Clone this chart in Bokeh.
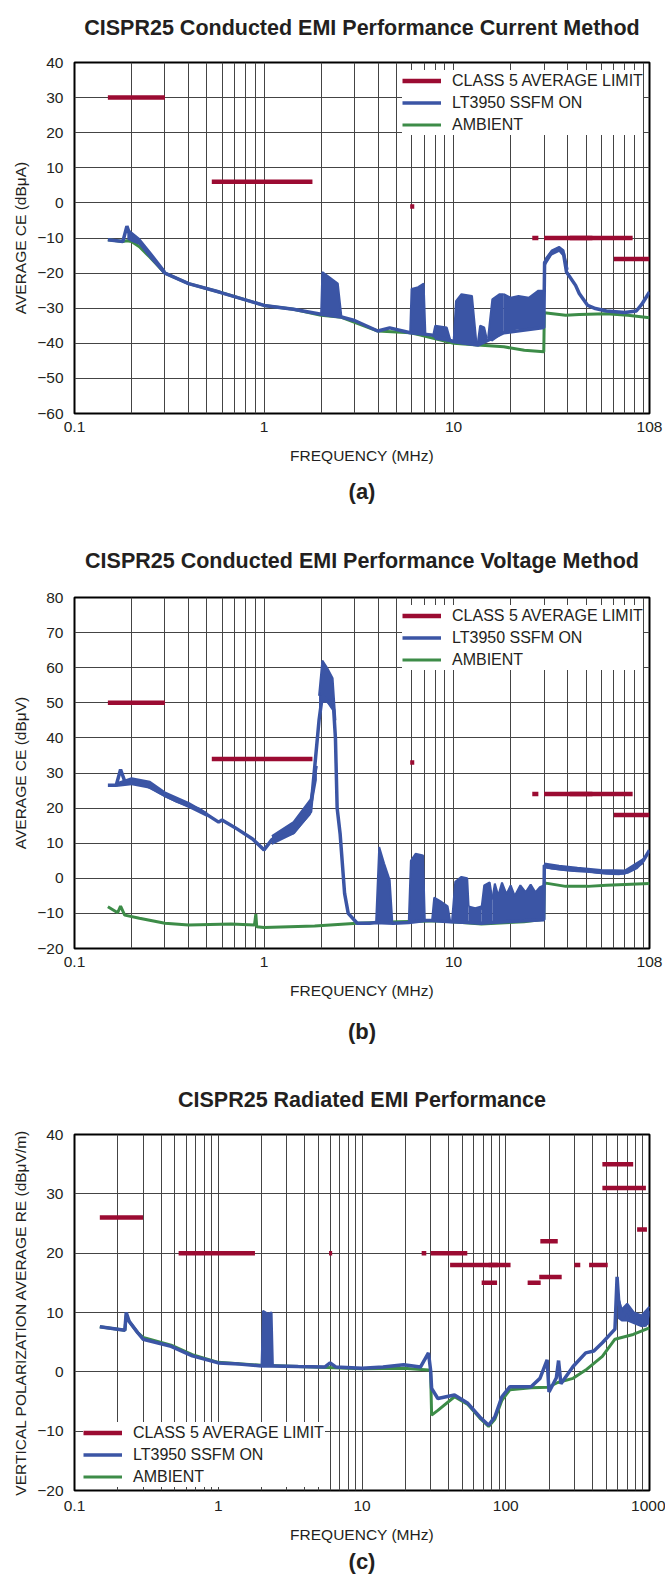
from bokeh.plotting import figure
from bokeh.layouts import column
from bokeh.models import Range1d, FixedTicker, Legend, LegendItem, Title
from bokeh.embed import file_html
from bokeh.resources import INLINE

FONT = "Liberation Sans"
LIMIT_COLOR = "#9b0b32"
BLUE = "#3b55a5"
GREEN = "#3d8c48"
GRID = "#444444"
TEXT = "#231f20"

LEGEND_LABELS = ["CLASS 5 AVERAGE LIMIT", "LT3950 SSFM ON", "AMBIENT"]
X_LABEL = "FREQUENCY (MHz)"

# ---------------- chart (a): conducted, current method ----------------
A_TITLE = "CISPR25 Conducted EMI Performance Current Method"
A_YLABEL = "AVERAGE CE (dBμA)"
A_XTICKS = [0.1, 1, 10, 108]
A_XTICK_LABELS = ["0.1", "1", "10", "108"]
A_YTICKS = [-60, -50, -40, -30, -20, -10, 0, 10, 20, 30, 40]
A_YTICK_LABELS = ["−60", "−50", "−40", "−30", "−20", "−10", "0", "10", "20", "30", "40"]

A_LIM_F0 = [0.15, 0.53, 5.9, 26, 30, 41, 70]
A_LIM_F1 = [0.30, 1.8, 6.2, 28, 54, 88, 108]
A_LIM_DB = [30, 6, -1, -10, -10, -10, -16]

A_SSFM_F = [0.15, 0.18, 0.189, 0.20, 0.22, 0.25, 0.30, 0.40, 0.58, 1.0, 1.43, 2.0, 2.56, 3.0,
            3.98, 4.6, 5.9, 7.6, 10.0, 13.4, 18.4, 29.9, 30.2, 33, 36, 38, 39.4, 44, 46, 51,
            56, 64, 80, 92, 98, 108]
A_SSFM_DB = [-10.5, -11, -6.6, -10.5, -11.2, -15, -20, -23, -25.4, -29.2, -30.3, -31.7, -32.5, -33.5,
             -36.5, -35.6, -37, -37.6, -39.5, -40.5, -37, -35.5, -17, -14, -13, -14.5, -19.7, -23.5, -25.8, -29.2,
             -30.1, -30.8, -31.2, -30.8, -29, -25.4]
A_BAND_F = [[0.19, 0.22, 0.25, 0.30],
            [2.0, 2.03, 2.25, 2.45, 2.56],
            [5.9, 6.0, 6.5, 6.95, 7.1],
            [7.8, 8.0, 9.2, 9.6],
            [10.0, 10.3, 11.0, 12.5, 13.2],
            [13.4, 13.8, 14.5, 15.0],
            [15.2, 16.0, 17.5, 18.4],
            [18.4, 20, 22, 25, 28, 29.9],
            [30.5, 33, 36, 38, 40]]
A_BAND_HI = [[-7.5, -10.3, -14, -19.5],
             [-31.7, -19.7, -21.5, -23, -32.5],
             [-37, -24.5, -24, -23, -37.5],
             [-37.8, -35, -35.5, -39],
             [-39.5, -28, -26, -26.5, -40],
             [-40, -35, -35.5, -39],
             [-38.5, -27.5, -26, -26],
             [-26, -27, -26.5, -27, -25, -25],
             [-16, -13.5, -12.5, -13.5, -19]]
A_BAND_LO = [[-10.5, -12, -15.8, -20.5],
             [-32, -32, -32.2, -32.3, -32.4],
             [-37, -37.2, -37.4, -37.5, -37.6],
             [-38, -39, -39.5, -39.5],
             [-40, -40, -40.3, -40.5, -40.5],
             [-40.5, -40, -39.5, -39],
             [-39, -39.5, -38, -37],
             [-37, -36.5, -36, -36, -35.5, -35.5],
             [-18, -15, -14, -15.5, -21]]
A_AMB_F = [0.15, 0.18, 0.189, 0.20, 0.22, 0.25, 0.30, 0.40, 0.58, 1.0, 1.43, 2.0, 2.56, 3.98, 5.9,
           6.6, 10.0, 13.4, 18.4, 23.6, 29.9, 30.1, 39, 46, 64, 83, 108]
A_AMB_DB = [-10.5, -11, -10.8, -11, -12.5, -15.5, -20, -23, -25.4, -29.2, -30.3, -32, -32.6, -36.5, -37,
            -37.6, -40, -40.5, -41, -42, -42.4, -31.3, -32, -31.8, -31.6, -32, -32.7]

# ---------------- chart (b): conducted, voltage method ----------------
B_TITLE = "CISPR25 Conducted EMI Performance Voltage Method"
B_YLABEL = "AVERAGE CE (dBμV)"
B_XTICKS = [0.1, 1, 10, 108]
B_XTICK_LABELS = ["0.1", "1", "10", "108"]
B_YTICKS = [-20, -10, 0, 10, 20, 30, 40, 50, 60, 70, 80]
B_YTICK_LABELS = ["−20", "−10", "0", "10", "20", "30", "40", "50", "60", "70", "80"]

B_LIM_F0 = [0.15, 0.53, 5.9, 26, 30, 41, 70]
B_LIM_F1 = [0.30, 1.8, 6.2, 28, 54, 88, 108]
B_LIM_DB = [50, 34, 33, 24, 24, 24, 18]

B_SSFM_F = [0.15, 0.166, 0.175, 0.184, 0.22, 0.283, 0.347, 0.448, 0.576, 0.60, 0.70, 0.87, 1.0, 1.1,
            1.43, 1.76, 1.95, 2.03, 2.2, 2.33, 2.38, 2.43, 2.52, 2.66, 2.78, 3.1, 3.6, 3.9, 4.8, 5.8,
            7.05, 7.7, 9.6, 12, 14, 16, 20, 29.9, 30.1, 33, 36, 39, 45, 51, 57, 64, 75, 83, 92, 100, 108]
B_SSFM_DB = [26.5, 26.5, 31, 27.7, 27.5, 24.4, 22, 19.8, 16, 16.6, 14.5, 11.2, 8.1, 11,
             13, 19, 45, 52, 50, 48, 40, 20, 12.6, -4.3, -10, -12.8, -12.8, -12.6, -12.8, -12.6,
             -12, -12, -12.4, -12.6, -12.8, -12.6, -12.3, -11.8, 3.7, 3, 2.8, 2.5, 2.2, 2.2, 1.8, 1.5, 1.4, 1.8, 3, 5, 8]
B_BAND_F = [[0.166, 0.2, 0.25, 0.3, 0.4, 0.5],
            [1.1, 1.43, 1.76, 1.9],
            [1.95, 2.03, 2.15, 2.3, 2.38],
            [3.9, 4.05, 4.3, 4.6, 4.75],
            [5.8, 5.95, 6.3, 6.9, 7.05],
            [7.7, 7.9, 8.5, 9.3, 9.6],
            [9.8, 10.2, 11.0, 11.8, 12.0],
            [12.0, 13.0, 14.0],
            [14.0, 14.5, 15.5, 16.0],
            [16, 16.5, 17.2, 18, 19, 20, 21, 22.5, 24, 25.5, 27, 28.5, 29.9],
            [30.1, 36, 45, 60, 80, 100]]
B_BAND_HI = [[27, 28.5, 27.5, 24.5, 21.5, 18.5],
             [12, 16, 22.5, 32],
             [52, 62, 60, 57, 45],
             [-12.5, 8.9, 4.2, -0.5, -12.5],
             [-12.5, 5, 7, 6.5, -12],
             [-12, -5.5, -6.5, -8, -12.3],
             [-12.4, -1, 0.4, 0, -8],
             [-8, -8.5, -8],
             [-9, -2, -1.2, -6],
             [-6, -1.5, -5, -1.2, -4.5, -2, -5, -2, -4, -1.8, -4, -2.5, -2],
             [4.2, 3.6, 3.0, 2.4, 2.2, 5.5]]
B_BAND_LO = [[26, 26.5, 25.5, 23, 20, 17.5],
             [9.5, 12.5, 18, 28],
             [45, 50, 50, 48, 40],
             [-12.8, -12.8, -12.8, -12.8, -12.8],
             [-12.6, -12.6, -12.5, -12.3, -12],
             [-12, -12.2, -12.2, -12.3, -12.4],
             [-12.4, -12.5, -12.5, -12.6, -12.6],
             [-12.6, -12.7, -12.8],
             [-12.8, -12.8, -12.8, -12.6],
             [-12.6, -12.6, -12.5, -12.4, -12.4, -12.3, -12.3, -12.2, -12.1, -12.0, -11.9, -11.9, -11.8],
             [2.8, 2.2, 1.8, 1.2, 1.0, 4.0]]
B_AMB_F = [0.15, 0.169, 0.175, 0.184, 0.22, 0.30, 0.40, 0.67, 0.89, 0.905, 0.915, 1.0, 1.85, 3.1, 5.1,
           8.5, 14, 23.5, 29.9, 30.1, 39, 51, 64, 108]
B_AMB_DB = [-8.1, -9.8, -7.9, -10.5, -11.4, -12.8, -13.3, -13, -13.3, -10.2, -13.8, -14, -13.6, -12.8, -12.4,
            -12.1, -13, -12.4, -11.7, -1.3, -2.3, -2.3, -2, -1.5]

# ---------------- chart (c): radiated ----------------
C_TITLE = "CISPR25 Radiated EMI Performance"
C_YLABEL = "VERTICAL POLARIZATION AVERAGE RE (dBμV/m)"
C_XTICKS = [0.1, 1, 10, 100, 1000]
C_XTICK_LABELS = ["0.1", "1", "10", "100", "1000"]
C_YTICKS = [-20, -10, 0, 10, 20, 30, 40]
C_YTICK_LABELS = ["−20", "−10", "0", "10", "20", "30", "40"]

C_LIM_F0 = [0.15, 0.53, 5.9, 26, 30, 41, 68, 76, 142, 171, 174, 300, 380, 470, 470, 820]
C_LIM_F1 = [0.30, 1.8, 6.2, 28, 54, 88, 87, 108, 175, 245, 230, 330, 512, 770, 944, 960]
C_LIM_DB = [26, 20, 20, 20, 20, 18, 15, 18, 15, 16, 22, 18, 18, 35, 31, 24]

C_SSFM_F = [0.15, 0.224, 0.229, 0.24, 0.275, 0.30, 0.47, 0.66, 1.0, 1.4, 2.0, 2.4, 3.6, 5.5, 6.0, 6.6,
            10, 14, 19.5, 25.5, 29, 30, 30.5, 33.7, 44, 54.5, 66, 76, 84, 94, 107, 150, 173, 194,
            200, 225, 233, 242, 294, 360, 410, 470, 575, 595, 610, 645, 690, 770, 817, 933, 1000]
C_SSFM_DB = [7.6, 7.0, 10, 8.5, 6.6, 5.5, 4.3, 2.7, 1.5, 1.3, 1.0, 1.0, 0.9, 0.8, 1.5, 0.8,
             0.6, 0.8, 1.2, 0.8, 3.2, 0.3, -2.8, -4.5, -3.9, -5.3, -7.6, -9, -7.6, -4.2, -2.5, -2.5, -1.1, 2,
             -3.4, -1, 1.9, -2, 0.9, 3.2, 3.5, 4.9, 7.2, 16, 12, 8.9, 10.6, 8.6, 9.4, 7.7, 10.3]
C_BAND_F = [[2.0, 2.05, 2.2, 2.35, 2.4],
            [600, 640, 700, 780, 880, 1000]]
C_BAND_HI = [[1.0, 10.3, 9.8, 10.0, 1.0],
             [13, 10.5, 11.5, 10, 9.5, 11]]
C_BAND_LO = [[1.0, 1.0, 1.0, 1.0, 1.0],
             [9, 8.5, 8.5, 8, 7.5, 8]]
C_AMB_F = [0.15, 0.224, 0.229, 0.24, 0.275, 0.30, 0.47, 0.66, 1.0, 2.0, 3.6, 10, 19.5, 29, 30, 30.5,
           33.7, 44, 54.5, 66, 76, 84, 94, 107, 150, 197, 230, 294, 360, 470, 575, 770, 1000]
C_AMB_DB = [7.6, 7.0, 9.5, 8.5, 6.6, 5.8, 4.5, 2.9, 1.6, 1.1, 0.9, 0.5, 0.6, 0.3, 0.2, -7.3,
            -6.5, -4.2, -5.5, -7.8, -9.2, -8, -4.8, -3, -2.7, -2.6, -1.8, -1.1, 0.3, 2.6, 5.5, 6.3, 7.4]

GRID_X = [0.2, 0.3, 0.4, 0.5, 0.6, 0.7, 0.8, 0.9, 1, 2, 3, 4, 5, 6, 7, 8, 9, 10,
          20, 30, 40, 50, 60, 70, 80, 90, 100, 200, 300, 400, 500, 600, 700, 800, 900]


def make_chart(title, ylabel, xticks, xlabels, yticks, ylabels, xr, yr,
               lim_f0, lim_f1, lim_db, ssfm_f, ssfm_db, band_f, band_hi, band_lo,
               amb_f, amb_db, tag, height, borders, title_gap, tag_standoff,
               legend_loc, legend_label_width, xlabel_standoff):
    bl, br, bt, bb = borders
    p = figure(width=665, height=height, x_axis_type="log",
               x_range=Range1d(*xr), y_range=Range1d(*yr),
               output_backend="svg", toolbar_location=None,
               min_border_left=bl, min_border_right=br,
               min_border_top=bt, min_border_bottom=bb)
    p.title.text = title
    p.title.align = "center"
    p.title.standoff = 24
    p.title.text_font = FONT
    p.title.text_font_size = "21.5px"
    p.title.text_font_style = "bold"
    p.title.text_color = TEXT
    # thin spacer between the title and the plot frame
    p.add_layout(Title(text=" ", text_font_size="1px", standoff=title_gap), "above")

    p.outline_line_color = "black"
    p.outline_line_width = 2
    p.xgrid.ticker = FixedTicker(ticks=[g for g in GRID_X if xr[0] < g < xr[1]])
    p.ygrid.ticker = FixedTicker(ticks=yticks)
    for g in (p.xgrid, p.ygrid):
        g.grid_line_color = GRID
        g.grid_line_width = 1
        g.grid_line_alpha = 1

    for ax in (p.xaxis[0], p.yaxis[0]):
        ax.major_tick_in = 0
        ax.major_tick_out = 0
        ax.minor_tick_in = 0
        ax.minor_tick_out = 0
        ax.axis_line_color = None
        ax.major_label_text_font = FONT
        ax.major_label_text_font_size = "15.5px"
        ax.major_label_text_color = TEXT
        ax.axis_label_text_font = FONT
        ax.axis_label_text_font_size = "15.5px"
        ax.axis_label_text_font_style = "normal"
        ax.axis_label_text_color = TEXT
    p.xaxis.ticker = FixedTicker(ticks=xticks)
    p.xaxis.major_label_overrides = dict(zip(xticks, xlabels))
    p.xaxis.major_label_standoff = xlabel_standoff
    p.xaxis.axis_label = X_LABEL
    p.xaxis.axis_label_standoff = 12
    p.yaxis.ticker = FixedTicker(ticks=yticks)
    p.yaxis.major_label_overrides = dict(zip(yticks, ylabels))
    p.yaxis.major_label_standoff = 11
    p.yaxis.axis_label = ylabel
    p.yaxis.axis_label_standoff = 5

    r_amb = p.line(amb_f, amb_db, line_color=GREEN, line_width=3)
    for f, hi, lo in zip(band_f, band_hi, band_lo):
        p.varea(x=f, y1=lo, y2=hi, fill_color=BLUE)
        p.line(f, hi, line_color=BLUE, line_width=2)
    r_ssfm = p.line(ssfm_f, ssfm_db, line_color=BLUE, line_width=3.5)
    r_lim = p.segment(x0=lim_f0, y0=lim_db, x1=lim_f1, y1=lim_db,
                      line_color=LIMIT_COLOR, line_width=4.5)

    legend = Legend(items=[LegendItem(label=LEGEND_LABELS[0], renderers=[r_lim]),
                           LegendItem(label=LEGEND_LABELS[1], renderers=[r_ssfm]),
                           LegendItem(label=LEGEND_LABELS[2], renderers=[r_amb])],
                    location=legend_loc, margin=0, padding=4, spacing=1,
                    glyph_width=39, glyph_height=21, label_height=21,
                    label_width=legend_label_width, label_standoff=11,
                    label_text_font=FONT, label_text_font_size="16px",
                    label_text_color=TEXT, border_line_color=None,
                    background_fill_color="white", background_fill_alpha=1)
    p.add_layout(legend)

    tg = Title(text=tag, align="center", standoff=tag_standoff, text_font=FONT,
               text_font_size="22px", text_font_style="bold", text_color=TEXT)
    p.add_layout(tg, "below")
    return p


pa = make_chart(A_TITLE, A_YLABEL, A_XTICKS, A_XTICK_LABELS, A_YTICKS, A_YTICK_LABELS,
                (0.1, 108), (-60, 40), A_LIM_F0, A_LIM_F1, A_LIM_DB, A_SSFM_F, A_SSFM_DB,
                A_BAND_F, A_BAND_HI, A_BAND_LO, A_AMB_F, A_AMB_DB, "(a)",
                516, (74, 14, 62, 103), 8, 20, (328, 278), 191, 8)
pb = make_chart(B_TITLE, B_YLABEL, B_XTICKS, B_XTICK_LABELS, B_YTICKS, B_YTICK_LABELS,
                (0.1, 108), (-20, 80), B_LIM_F0, B_LIM_F1, B_LIM_DB, B_SSFM_F, B_SSFM_DB,
                B_BAND_F, B_BAND_HI, B_BAND_LO, B_AMB_F, B_AMB_DB, "(b)",
                545, (74, 14, 81, 113), 10, 31, (328, 278), 191, 8)
pc = make_chart(C_TITLE, C_YLABEL, C_XTICKS, C_XTICK_LABELS, C_YTICKS, C_YTICK_LABELS,
                (0.1, 1000), (-20, 40), C_LIM_F0, C_LIM_F1, C_LIM_DB, C_SSFM_F, C_SSFM_DB,
                C_BAND_F, C_BAND_HI, C_BAND_LO, C_AMB_F, C_AMB_DB, "(c)",
                516, (72, 16, 73, 87), 8, 3, (9, 3), 192, 10)

layout = column(pa, pb, pc, spacing=0)
open("out.html", "w").write(file_html(layout, INLINE))
